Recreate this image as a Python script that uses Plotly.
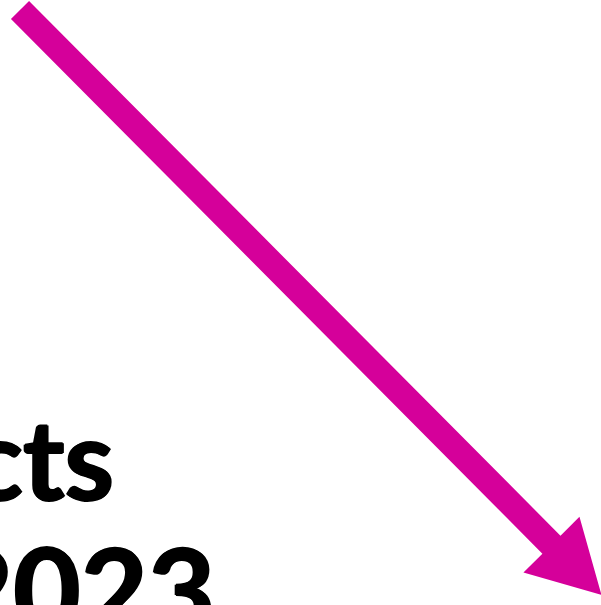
import numpy as np
import plotly.graph_objects as go

# Arrow geometry (page pixel space, y downwards)
arrow_tail = [20, 10]
arrow_tip = [601.5, 595]
shaft_width = [25.5]
head_width = [79]
head_length = [71]
arrow_color = "#D5009A"

# Title fragments visible in the crop
title_lines = ["cts", "2023"]
title_right_x = [115, 216]
title_baseline_y = [498, 631]
title_sizes = [112, 116]

W, H = 601, 605

t = np.array(arrow_tail, float)
p = np.array(arrow_tip, float)
d = (p - t) / np.linalg.norm(p - t)
n = np.array([-d[1], d[0]])
base = p - d * head_length[0]
sw = shaft_width[0] / 2
hw = head_width[0] / 2
poly = np.array([
    t + n * sw,
    base + n * sw,
    base + n * hw,
    p,
    base - n * hw,
    base - n * sw,
    t - n * sw,
    t + n * sw,
])

fig = go.Figure()
fig.add_trace(go.Scatter(
    x=poly[:, 0], y=poly[:, 1], mode="lines", fill="toself",
    fillcolor=arrow_color, line=dict(color=arrow_color, width=0),
    hoverinfo="skip", showlegend=False,
))

thick = "1.3px 0 0 #000, -1.3px 0 0 #000, 0 1px 0 #000, 0 -1px 0 #000"
for txt, xr, yb, sz in zip(title_lines, title_right_x, title_baseline_y, title_sizes):
    box_bottom = yb + 0.24 * sz
    fig.add_annotation(
        x=xr / W, y=1 - box_bottom / H, xref="paper", yref="paper",
        text=f"<b>{txt}</b>",
        showarrow=False, xanchor="right", yanchor="bottom",
        font=dict(family="Lato", size=sz, color="black", shadow=thick),
        borderpad=0,
    )

fig.update_layout(
    width=W, height=H, margin=dict(l=0, r=0, t=0, b=0),
    paper_bgcolor="white", plot_bgcolor="white",
    xaxis=dict(range=[0, W], visible=False, fixedrange=True),
    yaxis=dict(range=[H, 0], visible=False, fixedrange=True),
    showlegend=False,
)
fig.write_html(
    "out.html",
    config={"displayModeBar": False},
    post_script="document.body.style.margin='0';document.body.style.overflow='hidden';",
)
